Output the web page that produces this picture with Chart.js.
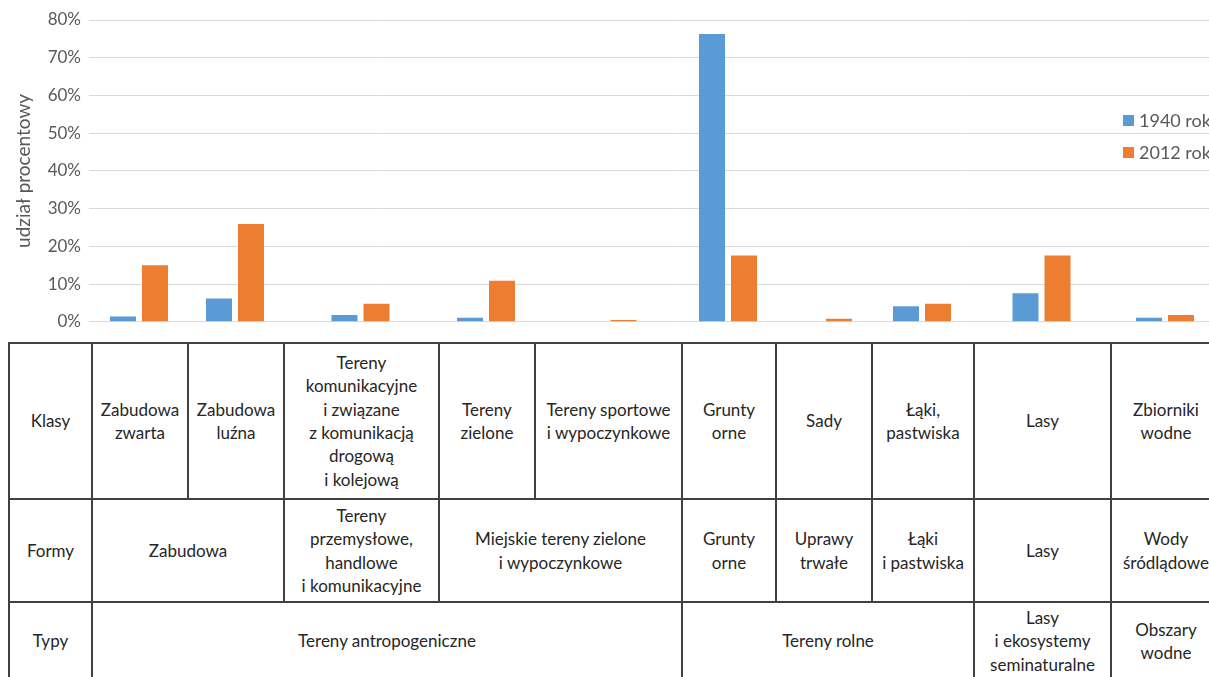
<!DOCTYPE html>
<html lang="pl">
<head>
<meta charset="utf-8">
<script src="https://cdn.jsdelivr.net/npm/chart.js@4.4.1/dist/chart.umd.min.js"></script>
<style>
html,body{margin:0;padding:0;background:#fff;}
body{width:1209px;height:677px;overflow:hidden;position:relative;font-family:Lato,"Open Sans",sans-serif;}
#chartBox{position:absolute;left:0;top:0;}
#legend{position:absolute;left:1123px;top:104px;font-size:18px;color:#595959;white-space:nowrap;}
.li{display:flex;align-items:center;height:32px;}
.sw{width:11px;height:11px;margin-right:5px;flex:none;}
#tbl{position:absolute;left:8px;top:342px;border-collapse:collapse;table-layout:fixed;font-size:17px;line-height:23.4px;color:#262626;font-family:Lato,sans-serif;}
#tbl td{border:2px solid #404040;text-align:center;vertical-align:middle;padding:0;white-space:nowrap;overflow:hidden;}
</style>
</head>
<body>
<div id="chartBox"><canvas id="c" width="1260" height="340"></canvas></div>
<div id="legend"></div>
<table id="tbl"></table>
<script>
// ---- data ----
const categories = [
  'Zabudowa\nzwarta',
  'Zabudowa\nluźna',
  'Tereny\nkomunikacyjne\ni związane\nz komunikacją\ndrogową\ni kolejową',
  'Tereny\nzielone',
  'Tereny sportowe\ni wypoczynkowe',
  'Grunty\norne',
  'Sady',
  'Łąki,\npastwiska',
  'Lasy',
  'Zbiorniki\nwodne'
];
const seriesNames = ['1940 rok', '2012 rok'];
const values1940 = [1.4, 6.2, 1.8, 1.05, 0, 76.3, 0, 4.1, 7.55, 1.05];
const values2012 = [15.0, 25.9, 4.8, 10.9, 0.5, 17.6, 0.8, 4.8, 17.6, 1.8];
const yTicks = [0, 10, 20, 30, 40, 50, 60, 70, 80];
const yTitle = 'udział procentowy';
const rowHeaders = ['Klasy', 'Formy', 'Typy'];
const formy = [['Zabudowa', 2], ['Tereny\nprzemysłowe,\nhandlowe\ni komunikacyjne', 1], ['Miejskie tereny zielone\ni wypoczynkowe', 2], ['Grunty\norne', 1], ['Uprawy\ntrwałe', 1], ['Łąki\ni pastwiska', 1], ['Lasy', 1], ['Wody\nśródlądowe', 1]];
const typy = [['Tereny antropogeniczne', 5], ['Tereny rolne', 3], ['Lasy\ni ekosystemy\nseminaturalne', 1], ['Obszary\nwodne', 1]];

// ---- layout / style ----
const colors = ['#5B9BD5', '#ED7D31'];
const TABLE_LEFT = 8, HEADER_COL_W = 83;
const colWidths = [96, 96, 155, 96, 147, 94, 96, 102, 137, 110];
const rowHeights = [156, 103, 78];
const PLOT_LEFT = 89, CANVAS_W = 1260;
const BAR_W = 26, PAIR_W = 32;

// ---- table ----
const tbl = document.getElementById('tbl');
const cg = document.createElement('colgroup');
[HEADER_COL_W, ...colWidths].forEach(w => { const col = document.createElement('col'); col.style.width = w + 'px'; cg.appendChild(col); });
tbl.appendChild(cg);
tbl.style.width = (HEADER_COL_W + colWidths.reduce((a, b) => a + b, 0)) + 'px';
const rows = [categories.map(c => [c, 1]), formy, typy];
rows.forEach((cells, r) => {
  const tr = document.createElement('tr');
  tr.style.height = rowHeights[r] + 'px';
  const th = document.createElement('td');
  th.textContent = rowHeaders[r];
  tr.appendChild(th);
  cells.forEach(([txt, span]) => {
    const td = document.createElement('td');
    td.colSpan = span;
    txt.split('\n').forEach((line, i) => { if (i) td.appendChild(document.createElement('br')); td.appendChild(document.createTextNode(line)); });
    tr.appendChild(td);
  });
  tbl.appendChild(tr);
});

// ---- legend ----
const lg = document.getElementById('legend');
seriesNames.forEach((n, i) => {
  const d = document.createElement('div'); d.className = 'li';
  const s = document.createElement('span'); s.className = 'sw'; s.style.background = colors[i];
  const t = document.createElement('span'); t.textContent = n;
  d.appendChild(s); d.appendChild(t); lg.appendChild(d);
});

// ---- chart ----
// category centres follow the table columns beneath the plot
let acc = 0;
const centers = colWidths.map(w => { const c = acc + w / 2; acc += w; return c; });
const xMin = PLOT_LEFT - (TABLE_LEFT + HEADER_COL_W);
const xMax = xMin + (CANVAS_W - PLOT_LEFT);
const series = [values1940, values2012];

new Chart(document.getElementById('c'), {
  type: 'bar',
  data: {
    datasets: series.map((vals, i) => ({
      label: seriesNames[i],
      data: vals.map((v, k) => ({ x: centers[k] + (i - (series.length - 1) / 2) * PAIR_W, y: v })),
      backgroundColor: colors[i],
      grouped: false,
      barThickness: BAR_W,
      inflateAmount: 0
    }))
  },
  options: {
    responsive: false,
    animation: false,
    layout: { padding: { top: 20, bottom: 16, left: 0, right: 0 } },
    plugins: { legend: { display: false }, tooltip: { enabled: false } },
    scales: {
      x: { type: 'linear', display: false, offset: false, min: xMin, max: xMax },
      y: {
        min: yTicks[0], max: yTicks[yTicks.length - 1],
        afterBuildTicks: s => { s.ticks = yTicks.map(v => ({ value: v })); },
        ticks: { callback: v => v + '%', color: '#595959', font: { family: 'Lato', size: 17 }, padding: 8 },
        grid: { color: '#D9D9D9', drawTicks: false, lineWidth: 1 },
        border: { display: false },
        title: { display: true, text: yTitle, color: '#595959', font: { family: 'Lato', size: 19 }, padding: { top: 12, bottom: 0 } },
        afterFit: s => { s.width = PLOT_LEFT; }
      }
    }
  }
});
</script>
</body>
</html>
